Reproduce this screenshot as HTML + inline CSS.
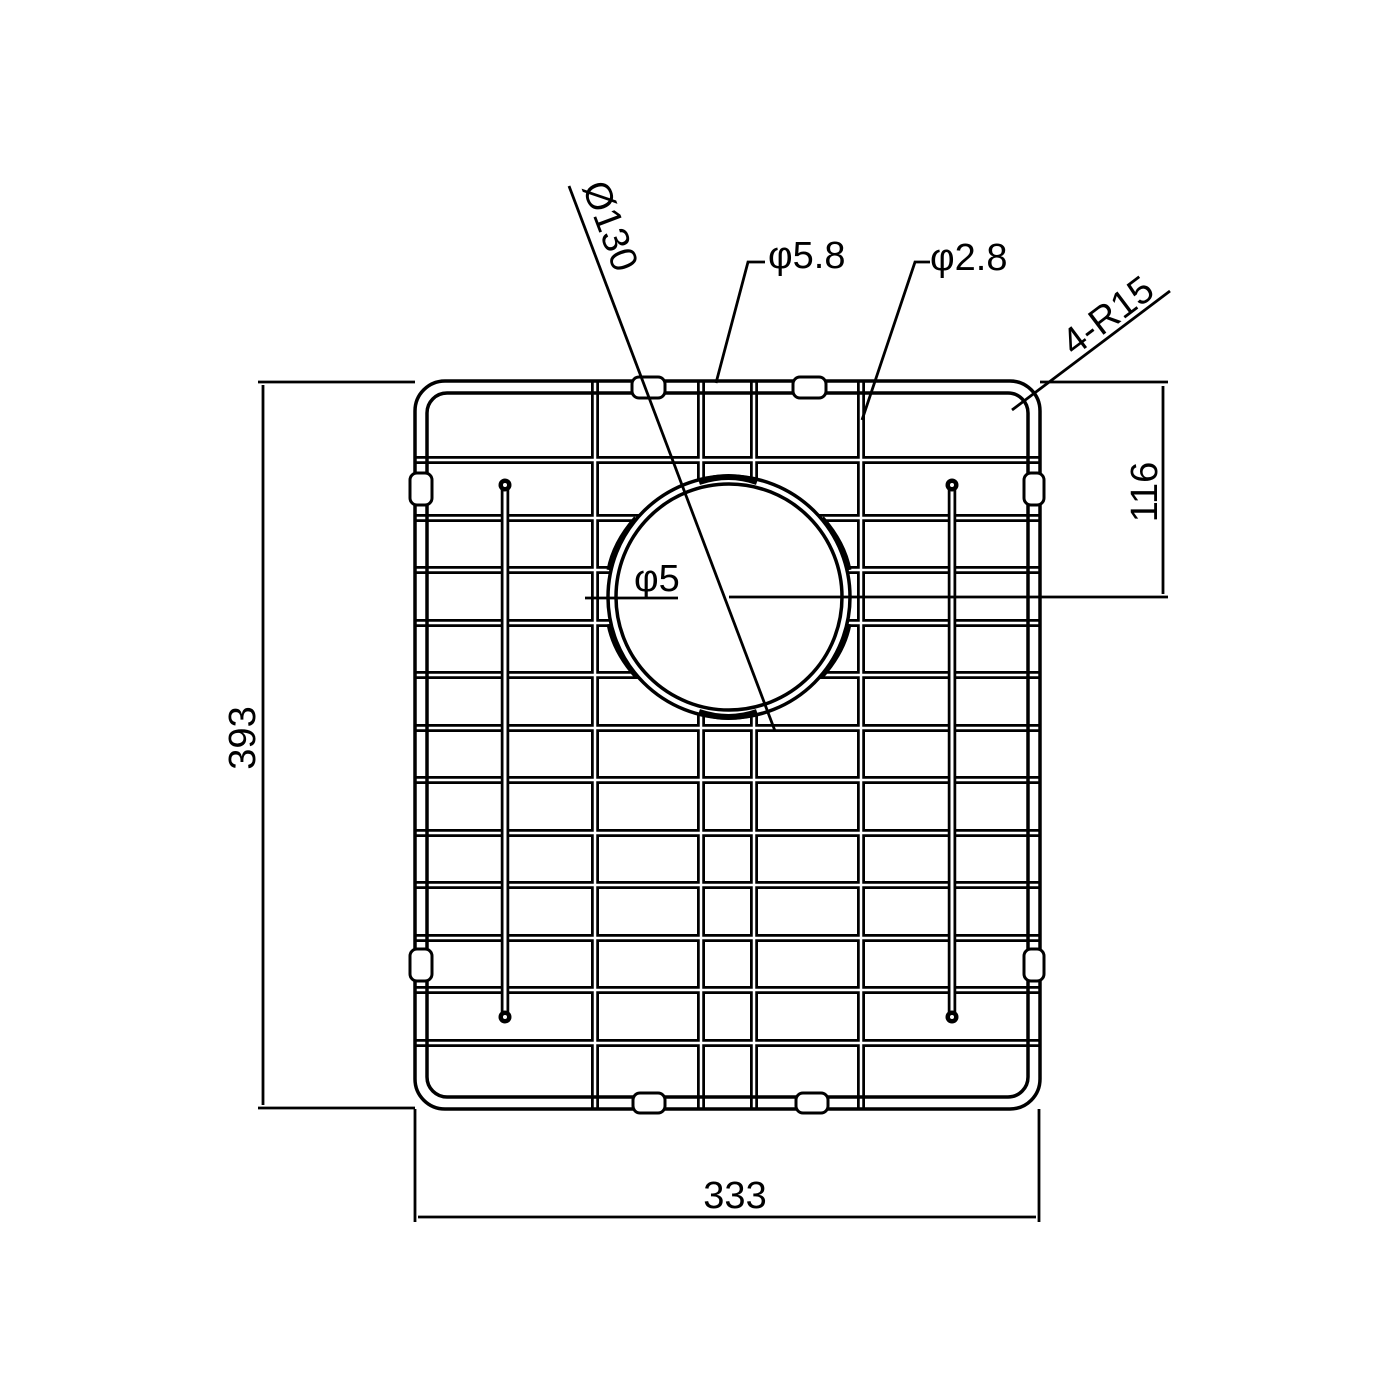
<!DOCTYPE html>
<html><head><meta charset="utf-8"><style>html,body{margin:0;padding:0;background:#fff}svg{display:block}</style></head>
<body>
<svg width="1400" height="1400" viewBox="0 0 1400 1400" xmlns="http://www.w3.org/2000/svg" font-family="Liberation Sans, sans-serif">
<defs>
<mask id="m"><rect width="1400" height="1400" fill="#fff"/><circle cx="729" cy="597" r="121" fill="#000"/></mask>
</defs>
<rect width="1400" height="1400" fill="#fff"/>
<g mask="url(#m)">
<g stroke="#000" stroke-width="8">
<path d="M415 460H1040M415 518H1040M415 570H1040M415 623H1040M415 675H1040M415 728H1040M415 780H1040M415 833H1040M415 885H1040M415 938H1040M415 990H1040M415 1043H1040"/>
<path d="M595 381V1109M701 381V1109M754 381V1109M861 381V1109"/>
</g>
<g stroke="#fff" stroke-width="2.5">
<path d="M415 460H1040M415 518H1040M415 570H1040M415 623H1040M415 675H1040M415 728H1040M415 780H1040M415 833H1040M415 885H1040M415 938H1040M415 990H1040M415 1043H1040"/>
<path d="M595 381V1109M701 381V1109M754 381V1109M861 381V1109"/>
</g>
</g>
<circle cx="729" cy="597" r="121" fill="#fff" stroke="#000" stroke-width="3.5"/>
<circle cx="729" cy="597" r="113" fill="none" stroke="#000" stroke-width="3.5"/>
<path d="M699 482 Q729 472 757 482" fill="none" stroke="#000" stroke-width="6"/>
<path d="M699 712 Q729 722 757 712" fill="none" stroke="#000" stroke-width="6"/>
<path d="M636 518 Q614 543 609 570" fill="none" stroke="#000" stroke-width="5"/>
<path d="M822 518 Q844 543 849 570" fill="none" stroke="#000" stroke-width="5"/>
<path d="M636 676 Q614 651 609 624" fill="none" stroke="#000" stroke-width="5"/>
<path d="M822 676 Q844 651 849 624" fill="none" stroke="#000" stroke-width="5"/>
<rect x="415" y="381" width="625" height="728" rx="30" fill="none" stroke="#000" stroke-width="3.5"/>
<rect x="427" y="393" width="601" height="704" rx="20" fill="none" stroke="#000" stroke-width="3.5"/>
<g stroke="#000" stroke-width="8.5"><path d="M505 485V1017M952 485V1017"/></g>
<g stroke="#fff" stroke-width="3"><path d="M505 490V1012M952 490V1012"/></g>
<circle cx="505" cy="485" r="6.5" fill="#000"/><circle cx="505" cy="485" r="2" fill="#fff"/>
<circle cx="952" cy="485" r="6.5" fill="#000"/><circle cx="952" cy="485" r="2" fill="#fff"/>
<circle cx="505" cy="1017" r="6.5" fill="#000"/><circle cx="505" cy="1017" r="2" fill="#fff"/>
<circle cx="952" cy="1017" r="6.5" fill="#000"/><circle cx="952" cy="1017" r="2" fill="#fff"/>
<g fill="#fff" stroke="#000" stroke-width="3">
<rect x="632" y="377" width="33" height="21" rx="7"/>
<rect x="793" y="377" width="33" height="21" rx="7"/>
<rect x="633" y="1093" width="32" height="20" rx="7"/>
<rect x="796" y="1093" width="32" height="20" rx="7"/>
<rect x="410" y="473" width="22" height="32" rx="7"/>
<rect x="410" y="949" width="22" height="32" rx="7"/>
<rect x="1024" y="473" width="20" height="32" rx="7"/>
<rect x="1024" y="949" width="20" height="32" rx="7"/>
</g>
<g stroke="#000" stroke-width="2.8" fill="none">
<path d="M258 382H415M258 1108H415M263 385V1105"/>
<path d="M415 1109V1222M1039 1109V1222M418 1217H1036"/>
<path d="M1040 382H1168M729 597H1168M1163 386V594"/>
<path d="M1012 410L1170 291"/>
<path d="M569 186L775 731"/>
<path d="M716 383L748 262H765"/>
<path d="M862 420L915 262H930"/>
<path d="M585 598H678"/>
</g>
<g font-size="38" fill="#000">
<text x="257" y="738" text-anchor="middle" transform="rotate(-90 257 738)" dy="-2">393</text>
<text x="735" y="1208" text-anchor="middle">333</text>
<text x="1157" y="492" text-anchor="middle" transform="rotate(-90 1157 492)">116</text>
<text x="768" y="268">φ5.8</text>
<text x="930" y="270">φ2.8</text>
<text x="634" y="591">φ5</text>
<text x="0" y="0" transform="translate(582 187) rotate(69.3)">Ø130</text>
<text x="0" y="0" transform="translate(1074 357) rotate(-37)">4-R15</text>
</g>
</svg>
</body></html>
